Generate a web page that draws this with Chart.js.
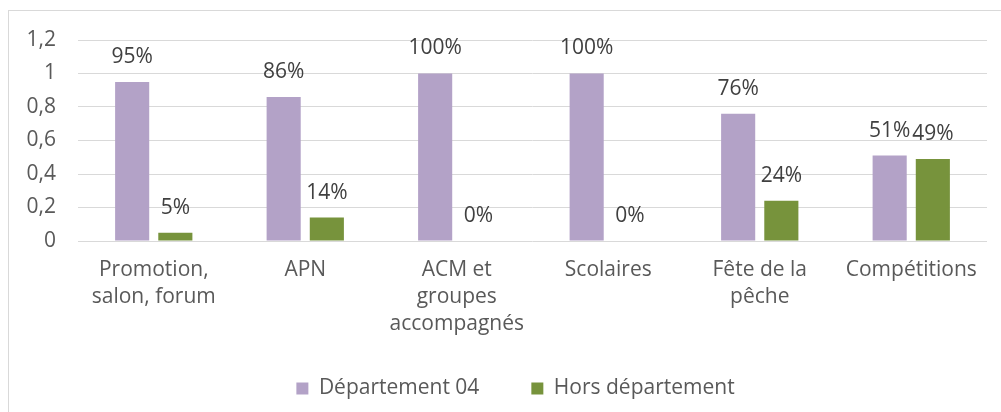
<!DOCTYPE html>
<html>
<head>
<meta charset="utf-8">
<script src="https://cdn.jsdelivr.net/npm/chart.js@4"></script>
<style>
  html, body { margin: 0; padding: 0; background: #fff; overflow: hidden; }
  #wrap { position: relative; width: 1001px; height: 412px; }
  #frame { position: absolute; left: 8px; top: 10px; width: 1100px; height: 500px; border: 1px solid #d9d9d9; }
  #c { position: absolute; left: 0; top: 0; }
</style>
</head>
<body>
<div id="wrap">
  <div id="frame"></div>
  <canvas id="c" width="1001" height="412"></canvas>
</div>
<script>
var categories = [
  ['Promotion,', 'salon, forum'],
  'APN',
  ['ACM et', 'groupes', 'accompagnés'],
  'Scolaires',
  ['Fête de la', 'pêche'],
  'Compétitions'
];
var dept04 = [0.95, 0.86, 1, 1, 0.76, 0.51];
var horsDept = [0.05, 0.14, 0, 0, 0.24, 0.49];
var yTicks = [0, 0.2, 0.4, 0.6, 0.8, 1, 1.2];

var textColor = '#595959';
var fontFamily = '"Open Sans", Lato, sans-serif';
var fontSize = 21;

// labels above the bars
var barLabels = {
  id: 'barLabels',
  afterDatasetsDraw: function(chart) {
    var ctx = chart.ctx;
    ctx.save();
    ctx.font = fontSize + 'px ' + fontFamily;
    ctx.fillStyle = '#404040';
    ctx.textAlign = 'center';
    ctx.textBaseline = 'middle';
    chart.data.datasets.forEach(function(ds, i) {
      chart.getDatasetMeta(i).data.forEach(function(bar, j) {
        ctx.fillText(Math.round(ds.data[j] * 100) + '%', bar.x, bar.y - 25);
      });
    });
    ctx.restore();
  }
};

// nudge legend a bit to the right, like the original
var legendShift = {
  id: 'legendShift',
  beforeDraw: function(chart) {
    if (chart.legend && !chart.legend._shifted) {
      chart.legend.left += 22;
      chart.legend.right += 22;
      chart.legend._shifted = true;
    }
  }
};

new Chart(document.getElementById('c'), {
  type: 'bar',
  data: {
    labels: categories,
    datasets: [{
      label: 'Département 04',
      data: dept04,
      backgroundColor: '#b3a2c7',
      barPercentage: 0.79,
      categoryPercentage: 0.57
    }, {
      label: 'Hors département',
      data: horsDept,
      backgroundColor: '#77933c',
      barPercentage: 0.79,
      categoryPercentage: 0.57
    }]
  },
  options: {
    responsive: false,
    animation: false,
    layout: { padding: { top: 40, right: 14, bottom: 3, left: 0 } },
    plugins: {
      legend: {
        position: 'bottom',
        labels: {
          boxWidth: 12,
          boxHeight: 12,
          padding: 10,
          color: textColor,
          font: { family: fontFamily, size: fontSize },
          generateLabels: function(chart) {
            var items = Chart.defaults.plugins.legend.labels.generateLabels(chart);
            items[0].text = items[0].text + '\u2003\u2003';
            return items;
          }
        }
      },
      tooltip: { enabled: false }
    },
    scales: {
      x: {
        grid: { display: false, drawTicks: false },
        border: { display: false },
        ticks: {
          color: textColor,
          padding: 16,
          maxRotation: 0,
          autoSkip: false,
          font: { family: fontFamily, size: fontSize, lineHeight: 27 / fontSize }
        },
        afterFit: function(scale) { scale.height = 127; }
      },
      y: {
        min: 0,
        max: 1.2,
        afterBuildTicks: function(scale) {
          scale.ticks = yTicks.map(function(v) { return { value: v }; });
        },
        grid: { color: '#d9d9d9', lineWidth: 1, drawTicks: false },
        border: { display: false },
        ticks: {
          color: textColor,
          padding: 22,
          font: { family: fontFamily, size: fontSize },
          callback: function(v) { return String(Math.round(v * 10) / 10).replace('.', ','); }
        },
        afterFit: function(scale) { scale.width = 78; }
      }
    }
  },
  plugins: [barLabels, legendShift]
});
</script>
</body>
</html>
